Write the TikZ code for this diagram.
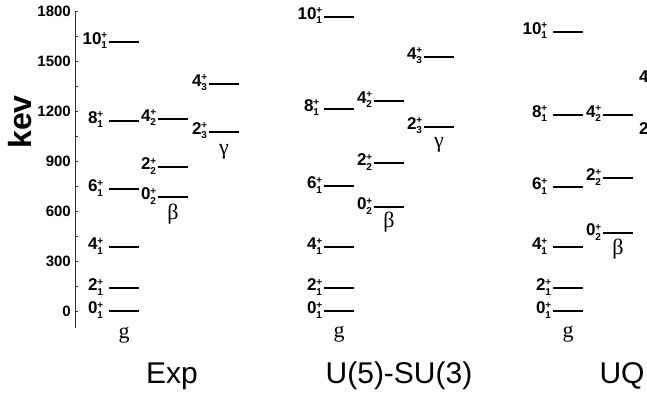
\documentclass[tikz,border=0pt]{standalone}
\usepackage{fontspec}
\setmainfont{Liberation Serif}
\setsansfont{Liberation Sans}
\usetikzlibrary{arrows,positioning}

% spin label J^+_i, with + and index stacked
\newcommand{\jlab}[2]{#1{\fontsize{10}{10}\selectfont\begin{tabular}[c]{@{}l@{}}+\\#2\end{tabular}}}
% one level: [label options], name, x, energy (keV), J, index
\newcommand{\enlevel}[6][]{%
  \draw[lvline] (#3,#4) coordinate (#2) -- coordinate (#2m) ++(30,0);
  \node[spinlab,#1] (#2t) at (#2) {\jlab{#5}{#6}};}

\begin{document}
\begin{tikzpicture}[x=1pt,y=0.16667pt]
\tikzstyle{lvline}=[line width=1.8pt]
\tikzstyle{spinlab}=[anchor=east,inner sep=1.5pt,font=\sffamily\bfseries\fontsize{17}{17}\selectfont]
\tikzstyle{gap}=[xshift=-4pt]
\tikzstyle{band}=[anchor=north,inner sep=0pt,font=\rmfamily\fontsize{22}{22}\selectfont]
\tikzstyle{model}=[anchor=base,font=\sffamily\fontsize{30}{30}\selectfont]
\tikzstyle{ticklab}=[anchor=east,inner sep=2pt,font=\sffamily\bfseries\fontsize{15}{15}\selectfont]
\useasboundingbox (0,-510) rectangle (647,1866);
\clip (0,-510) rectangle (647,1866);

% energy axis
\draw[gray!40!black,line width=0.8pt] (75,-100) -- (75,1800);
\foreach \e in {0,150,...,1800}
  \draw[gray!40!black,line width=0.8pt] (75,\e) -- ++(2.5,0);
\foreach \e in {0,300,...,1800}
  \node[ticklab] (t\e) at (73,\e) {\e};
\node[rotate=90,font=\sffamily\bfseries\fontsize{32}{32}\selectfont] (unit) at (20,1134) {kev};

% Exp
\enlevel[gap]{e01}{109}{0}{0}{1}
\enlevel[gap]{e21}{109}{138}{2}{1}
\enlevel[gap]{e41}{109}{384}{4}{1}
\enlevel[gap]{e61}{109}{732}{6}{1}
\enlevel[gap]{e81}{109}{1140}{8}{1}
\enlevel{e101}{109}{1614}{10}{1}
\enlevel{e02}{158}{684}{0}{2}
\enlevel{e22}{158}{864}{2}{2}
\enlevel{e42}{158}{1152}{4}{2}
\enlevel{e23}{209}{1074}{2}{3}
\enlevel{e43}{209}{1362}{4}{3}
\node[band,below=16pt of e01m] (eg) {g};
\node[band,below=7pt of e02m] (eb) {β};
\node[band,below=12pt of e23m] (ec) {γ};
\node[model] (exp) at (172,-432) {Exp};

% U(5)-SU(3)
\enlevel{s01}{324}{0}{0}{1}
\enlevel{s21}{324}{138}{2}{1}
\enlevel{s41}{324}{384}{4}{1}
\enlevel{s61}{324}{750}{6}{1}
\enlevel[xshift=-3pt]{s81}{324}{1212}{8}{1}
\enlevel{s101}{324}{1764}{10}{1}
\enlevel{s02}{374}{624}{0}{2}
\enlevel{s22}{374}{888}{2}{2}
\enlevel{s42}{374}{1260}{4}{2}
\enlevel{s23}{424}{1104}{2}{3}
\enlevel{s43}{424}{1524}{4}{3}
\node[band,below=15pt of s01m] (sg) {g};
\node[band,below=5pt of s02m] (sb) {β};
\node[band,below=10pt of s23m] (sc) {γ};
\node[model] (su3) at (399,-432) {U(5)-SU(3)};

% UQ
\enlevel{q01}{553}{0}{0}{1}
\enlevel{q21}{553}{138}{2}{1}
\enlevel[gap]{q41}{553}{384}{4}{1}
\enlevel[gap]{q61}{553}{744}{6}{1}
\enlevel[gap]{q81}{553}{1176}{8}{1}
\enlevel[gap]{q101}{553}{1674}{10}{1}
\enlevel{q02}{603}{468}{0}{2}
\enlevel{q22}{603}{798}{2}{2}
\enlevel{q42}{603}{1176}{4}{2}
\enlevel{q23}{656}{1074}{2}{3}
\enlevel{q43}{656}{1386}{4}{3}
\node[band,below=15pt of q01m] (qg) {g};
\node[band,below=6pt of q02m] (qb) {β};
\node[model] (uq) at (622,-432) {UQ};
\end{tikzpicture}
\end{document}
